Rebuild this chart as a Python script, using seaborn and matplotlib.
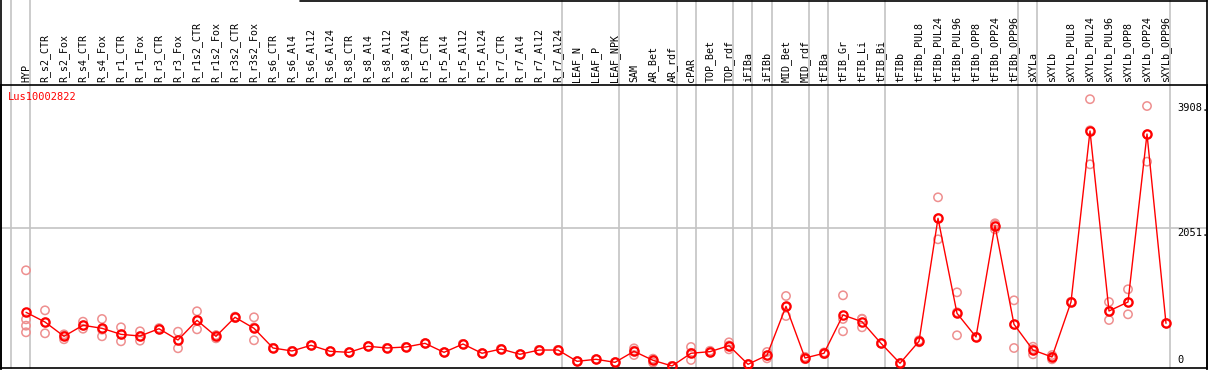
import matplotlib
matplotlib.use("Agg")
import matplotlib.pyplot as plt
import seaborn as sns
import pandas as pd
from matplotlib.lines import Line2D
import matplotlib.transforms as mtransforms

categories = ["HYP", "R_s2_CTR", "R_s2_Fox", "R_s4_CTR", "R_s4_Fox", "R_r1_CTR", "R_r1_Fox",
              "R_r3_CTR", "R_r3_Fox", "R_r1s2_CTR", "R_r1s2_Fox", "R_r3s2_CTR", "R_r3s2_Fox",
              "R_s6_CTR", "R_s6_Al4", "R_s6_Al12", "R_s6_Al24", "R_s8_CTR", "R_s8_Al4",
              "R_s8_Al12", "R_s8_Al24", "R_r5_CTR", "R_r5_Al4", "R_r5_Al12", "R_r5_Al24",
              "R_r7_CTR", "R_r7_Al4", "R_r7_Al12", "R_r7_Al24", "LEAF_N", "LEAF_P", "LEAF_NPK",
              "SAM", "AR_Bet", "AR_rdf", "cPAR", "TOP_Bet", "TOP_rdf", "iFIBa", "iFIBb",
              "MID_Bet", "MID_rdf", "tFIBa", "tFIB_Gr", "tFIB_Li", "tFIB_Bi", "tFIBb",
              "tFIBb_PUL8", "tFIBb_PUL24", "tFIBb_PUL96", "tFIBb_OPP8", "tFIBb_OPP24",
              "tFIBb_OPP96", "sXYLa", "sXYLb", "sXYLb_PUL8", "sXYLb_PUL24", "sXYLb_PUL96",
              "sXYLb_OPP8", "sXYLb_OPP24", "sXYLb_OPP96"]

means = [809, 665, 454, 617, 572, 483, 458, 566, 399, 690, 454, 735, 572,
         281, 237, 321, 232, 217, 306, 281, 296, 350, 217, 340, 203,
         266, 188, 251, 251, 84, 114, 69,
         232, 99, 15, 203, 227, 315, 40, 173,
         897, 133, 203, 769, 670, 350, 55,
         380, 2199, 794, 444, 2089, 631,
         251, 148, 961, 3490, 828, 961, 3445, 646]

replicates = [
    [1430, 705, 611, 513], [838, 659, 498], [483, 469, 410], [670, 615, 566], [710, 552, 454],
    [587, 482, 380], [528, 457, 389], [575, 566, 557], [522, 398, 277], [824, 689, 557],
    [469, 469, 424], [745, 735, 725], [735, 586, 395],
    [281, 281, 281], [237, 237, 237], [321, 321, 321], [232, 232, 232], [217, 217, 217],
    [306, 306, 306], [281, 281, 281], [296, 296, 296], [350, 350, 350], [217, 217, 217],
    [340, 340, 340], [203, 203, 203], [266, 266, 266], [188, 188, 188], [251, 251, 251],
    [251, 251, 251], [84, 84, 84], [114, 114, 114], [69, 69, 69],
    [276, 243, 177], [123, 110, 64], [15, 15, 15], [296, 209, 104], [240, 227, 215],
    [365, 319, 261], [40, 40, 40], [222, 169, 128],
    [1050, 887, 754], [150, 133, 116], [215, 203, 191], [1060, 710, 528], [714, 709, 587],
    [350, 350, 350], [55, 55, 55],
    [395, 380, 365], [2509, 2200, 1888], [1104, 809, 469], [444, 444, 444],
    [2125, 2106, 2036], [986, 626, 281],
    [300, 265, 188], [177, 153, 114], [961, 961, 961], [3960, 3500, 2997],
    [961, 828, 695], [1149, 955, 779], [3859, 3440, 3036], [646, 646, 646]]

group_lines = [-0.8, 0.22, 28.22, 31.22, 34.25, 35.25, 37.22, 38.22, 39.25, 41.22,
               42.22, 45.22, 52.22, 53.22, 60.22]
ref_values = [2051]
right_labels = ["3908.", "2051.", "0"]
right_label_values = [3908, 2051, 0]
title = "Lus10002822"

sns.set_theme(style="white")
plt.rcParams["font.family"] = ["DejaVu Sans Mono", "DejaVu Sans"]

W, H = 1209, 370
fig = plt.figure(figsize=(W / 100, H / 100), dpi=100)
ax_left, ax_right, ax_top, ax_bot = 1, 1207, 85, 368
ax = fig.add_axes([ax_left / W, (H - ax_bot) / H, (ax_right - ax_left) / W, (ax_bot - ax_top) / H])

xs = list(range(len(categories)))
mean_df = pd.DataFrame({"x": xs, "value": means})
rep_x, rep_y = [], []
for i, reps in enumerate(replicates):
    for r in reps:
        rep_x.append(i)
        rep_y.append(r)
rep_df = pd.DataFrame({"x": rep_x, "value": rep_y})

# x pixel = 26 + 19*i ; y: 0 at 367, 0.06763 px per unit
x0 = (ax_left - 26) / 19
x1 = (ax_right - 26) / 19
ylo = (367 - ax_bot) / 0.06763
yhi = (367 - ax_top) / 0.06763
ax.set_xlim(x0, x1)
ax.set_ylim(ylo, yhi)

gray = "#c4c4c4"
ext = (ax_bot - 0) / (ax_bot - ax_top)
for g in group_lines:
    ax.axvline(g, ymin=0, ymax=ext, color=gray, lw=1.2, clip_on=False, zorder=0)
for rv in ref_values:
    ax.axhline(rv, color=gray, lw=1.2, zorder=0)

sns.scatterplot(data=rep_df, x="x", y="value", ax=ax, marker="o", s=36,
                facecolor="none", edgecolor="#ee8f8f", linewidth=1.1, zorder=2, legend=False)
sns.lineplot(data=mean_df, x="x", y="value", ax=ax, color="red", lw=1.0,
             marker="o", markersize=6.0, markerfacecolor="none", markeredgecolor="red",
             markeredgewidth=1.6, zorder=3, legend=False)

ax.set_xticks(xs)
ax.set_xticklabels(categories, rotation=90, fontsize=7.2, color="black")
ax.xaxis.tick_top()
ax.tick_params(axis="x", length=0, pad=2.5)
ax.set_yticks([])
ax.set_xlabel("")
ax.set_ylabel("")
for s in ax.spines.values():
    s.set_color("black")
    s.set_linewidth(1.2)

ax.text((8 - ax_left) / (ax_right - ax_left), (ax_bot - 92) / (ax_bot - ax_top), title,
        transform=ax.transAxes, color="red", fontsize=7.5, ha="left", va="top")

trans = mtransforms.blended_transform_factory(ax.transAxes, ax.transData)
lx = (1177 - ax_left) / (ax_right - ax_left)
for lab, val in zip(right_labels, right_label_values):
    if val == 0:
        ax.text(lx, (ax_bot - 365) / (ax_bot - ax_top), lab, transform=ax.transAxes,
                fontsize=7.5, ha="left", va="bottom", color="black")
    else:
        ax.text(lx, val, lab, transform=trans, fontsize=7.5, ha="left", va="top", color="black")

# outer frame pieces
fig.add_artist(Line2D([ax_left / W, ax_left / W], [0, 1], color="black", lw=1.2))
fig.add_artist(Line2D([ax_right / W, ax_right / W], [0, 1], color="black", lw=1.2))
fig.add_artist(Line2D([300 / W, ax_right / W], [1 - 0.6 / H, 1 - 0.6 / H], color="black", lw=1.2))

fig.savefig("out.png", dpi=100)
